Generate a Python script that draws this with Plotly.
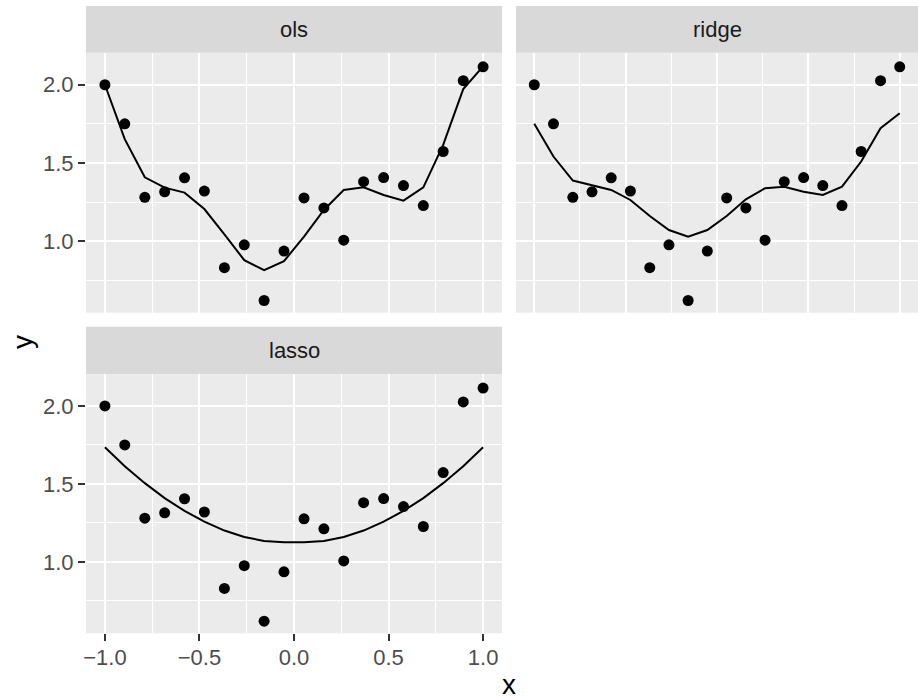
import plotly.graph_objects as go

# ---- data ----
x_vals = [-1.0, -0.895, -0.789, -0.684, -0.579, -0.474, -0.368, -0.263, -0.158, -0.053,
          0.053, 0.158, 0.263, 0.368, 0.474, 0.579, 0.684, 0.789, 0.895, 1.0]
y_obs = [2.00, 1.75, 1.28, 1.315, 1.405, 1.32, 0.83, 0.976, 0.62, 0.936,
         1.276, 1.212, 1.006, 1.38, 1.406, 1.355, 1.227, 1.573, 2.026, 2.115]
fit_ols = [2.00, 1.652, 1.408, 1.342, 1.310, 1.205, 1.043, 0.878, 0.814, 0.872,
           1.028, 1.199, 1.327, 1.344, 1.295, 1.259, 1.344, 1.615, 1.972, 2.118]
fit_ridge = [1.750, 1.541, 1.387, 1.355, 1.327, 1.263, 1.160, 1.071, 1.028, 1.071,
             1.160, 1.267, 1.338, 1.348, 1.316, 1.295, 1.348, 1.509, 1.722, 1.818]
fit_lasso = [1.735, 1.613, 1.505, 1.409, 1.327, 1.258, 1.201, 1.160, 1.134, 1.126,
             1.126, 1.134, 1.160, 1.201, 1.258, 1.327, 1.409, 1.505, 1.613, 1.735]
panels = ["ols", "ridge", "lasso"]
fits = [fit_ols, fit_ridge, fit_lasso]
x_ticks = [-1.0, -0.5, 0.0, 0.5, 1.0]
x_tick_labels = ["\u22121.0", "\u22120.5", "0.0", "0.5", "1.0"]
y_ticks = [1.0, 1.5, 2.0]
y_tick_labels = ["1.0", "1.5", "2.0"]

W, H = 918, 700
def px(v): return v / W
def py(v): return 1 - v / H

FONT = "Liberation Sans, Arial, Helvetica, sans-serif"
TICK_FONT = 22
STRIP_FONT = 22
TITLE_FONT = 28

# panel geometry (pixels)
geo = {
    "ols":   dict(x0=86, x1=502, strip_top=6, y0=52.7, y1=312.7, xax="x", yax="y"),
    "ridge": dict(x0=516, x1=918, strip_top=6, y0=52.7, y1=312.7, xax="x2", yax="y2"),
    "lasso": dict(x0=86, x1=502, strip_top=326.7, y0=374, y1=633.3, xax="x3", yax="y3"),
}

fig = go.Figure()
for name, fit in zip(panels, fits):
    g = geo[name]
    fig.add_trace(go.Scatter(x=x_vals, y=fit, mode="lines",
                             line=dict(color="black", width=2),
                             xaxis=g["xax"], yaxis=g["yax"], showlegend=False,
                             hoverinfo="skip"))
    fig.add_trace(go.Scatter(x=x_vals, y=y_obs, mode="markers",
                             marker=dict(color="black", size=11, line=dict(width=0)),
                             xaxis=g["xax"], yaxis=g["yax"], showlegend=False))

layout = dict(
    width=W, height=H, margin=dict(l=0, r=0, t=0, b=0, autoexpand=False),
    paper_bgcolor="white", plot_bgcolor="#EBEBEB",
    font=dict(family=FONT, color="#4D4D4D"),
    shapes=[], annotations=[],
)

def xaxis_cfg(g, show):
    return dict(domain=[px(g["x0"]), px(g["x1"])], range=[-1.1, 1.1],
                tickvals=x_ticks, ticktext=x_tick_labels,
                showticklabels=show, ticks="outside" if show else "",
                ticklen=7, tickwidth=2, tickcolor="#333333",
                ticklabelstandoff=-3,
                tickfont=dict(size=TICK_FONT, color="#4D4D4D", family=FONT),
                showgrid=True, gridcolor="white", gridwidth=2,
                minor=dict(showgrid=True, gridcolor="white", gridwidth=1,
                           tickvals=[-0.75, -0.25, 0.25, 0.75]),
                zeroline=False, showline=False, fixedrange=True, automargin=False)

def yaxis_cfg(g, show):
    return dict(domain=[py(g["y1"]), py(g["y0"])], range=[0.542, 2.205],
                tickvals=y_ticks, ticktext=y_tick_labels,
                showticklabels=show, ticks="outside" if show else "",
                ticklen=7, tickwidth=2, tickcolor="#333333",
                tickfont=dict(size=TICK_FONT, color="#4D4D4D", family=FONT),
                showgrid=True, gridcolor="white", gridwidth=2,
                minor=dict(showgrid=True, gridcolor="white", gridwidth=1,
                           tickvals=[0.75, 1.25, 1.75]),
                zeroline=False, showline=False, fixedrange=True, automargin=False)

for name, key in [("ols", ""), ("ridge", "2"), ("lasso", "3")]:
    g = geo[name]
    xa = xaxis_cfg(g, name == "lasso")
    xa["anchor"] = "y" + key
    ya = yaxis_cfg(g, name in ("ols", "lasso"))
    ya["anchor"] = "x" + key
    layout["xaxis" + key] = xa
    layout["yaxis" + key] = ya
    # strip
    layout["shapes"].append(dict(type="rect", xref="paper", yref="paper",
                                 x0=px(g["x0"]), x1=px(g["x1"]),
                                 y0=py(g["y0"]), y1=py(g["strip_top"]),
                                 fillcolor="#D9D9D9", line=dict(width=0), layer="below"))
    layout["annotations"].append(dict(text=name, xref="paper", yref="paper",
                                      x=px((g["x0"] + g["x1"]) / 2),
                                      y=py((g["y0"] + g["strip_top"]) / 2),
                                      showarrow=False, xanchor="center", yanchor="middle",
                                      font=dict(size=STRIP_FONT, color="#1A1A1A", family=FONT)))

layout["annotations"].append(dict(text="x", xref="paper", yref="paper",
                                  x=px(509), y=py(684), showarrow=False,
                                  xanchor="center", yanchor="middle",
                                  font=dict(size=TITLE_FONT, color="black", family=FONT)))
layout["annotations"].append(dict(text="y", xref="paper", yref="paper",
                                  x=px(22), y=py(342), showarrow=False, textangle=-90,
                                  xanchor="center", yanchor="middle",
                                  font=dict(size=TITLE_FONT, color="black", family=FONT)))

fig.update_layout(**layout)
fig.write_html("out.html", config={"displayModeBar": False},
               post_script="document.body.style.margin='0';document.body.style.overflow='hidden';")
